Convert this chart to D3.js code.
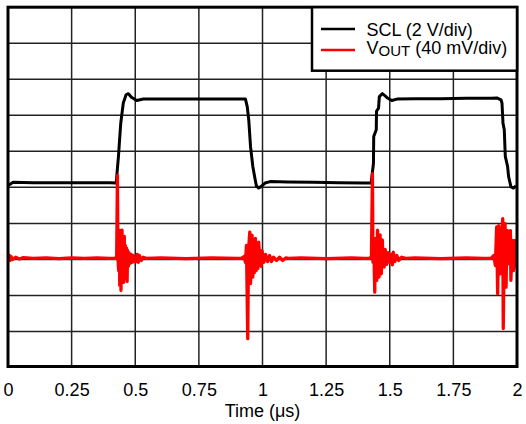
<!DOCTYPE html>
<html><head><meta charset="utf-8">
<script src="https://cdn.jsdelivr.net/npm/d3@7"></script>
<style>body{margin:0;background:#fff}svg{display:block}</style>
</head><body>
<svg id="chart" width="526" height="424"></svg>
<script>
// ---- data ----
const xTicks = [0, 0.25, 0.5, 0.75, 1, 1.25, 1.5, 1.75, 2];
const xTickLabels = ["0", "0.25", "0.5", "0.75", "1", "1.25", "1.5", "1.75", "2"];
const yDivisions = [0, 1, 2, 3, 4, 5, 6, 7, 8, 9, 10];
const xTitle = "Time (\u03BCs)";
const seriesNames = ["SCL (2 V/div)", "V", "OUT", " (40 mV/div)"];

// SCL trace (time in µs, value in divisions)
const sclTime = [0, 0.02, 0.1, 0.2, 0.3, 0.4, 0.425, 0.434, 0.443, 0.453, 0.464, 0.473, 0.485, 0.506, 0.532, 0.6, 0.7, 0.8, 0.9, 0.933,
  0.940, 0.946, 0.953, 0.962, 0.970, 0.976, 0.985, 0.994, 1.010, 1.030, 1.1, 1.2, 1.3, 1.4, 1.427,
  1.436, 1.437, 1.447, 1.448, 1.456, 1.459, 1.471, 1.482, 1.491, 1.508, 1.528, 1.6, 1.7, 1.8, 1.9, 1.921,
  1.937, 1.941, 1.945, 1.950, 1.954, 1.963, 1.967, 1.976, 1.986, 1.996];
const sclValue = [5.05, 5.14, 5.13, 5.13, 5.13, 5.13, 5.12, 5.86, 6.78, 7.34, 7.57, 7.60, 7.50, 7.41, 7.45, 7.45, 7.45, 7.45, 7.45, 7.45,
  7.24, 6.87, 6.13, 5.58, 5.26, 5.04, 4.98, 5.02, 5.12, 5.16, 5.15, 5.14, 5.13, 5.12, 5.12,
  5.67, 6.41, 6.60, 7.11, 7.20, 7.52, 7.60, 7.54, 7.48, 7.41, 7.45, 7.46, 7.46, 7.47, 7.47, 7.48,
  7.43, 7.34, 6.78, 6.60, 5.86, 5.58, 5.30, 5.02, 4.98, 5.04];

// VOUT trace (time in µs, value in divisions)
const voutTime = [0, 0.004, 0.008, 0.012, 0.018, 0.03, 0.045, 0.06, 0.1, 0.15, 0.2, 0.25, 0.3, 0.35, 0.4,
  0.421, 0.427, 0.430, 0.432, 0.435, 0.437, 0.439, 0.441, 0.444, 0.446, 0.448, 0.450, 0.452, 0.454, 0.457, 0.459,
  0.461, 0.464, 0.466, 0.468, 0.470, 0.473, 0.475, 0.480, 0.484, 0.488, 0.492, 0.496, 0.500, 0.504, 0.508, 0.512,
  0.516, 0.524, 0.531, 0.543, 0.6, 0.7, 0.8, 0.9,
  0.917, 0.927, 0.933, 0.937, 0.942, 0.945, 0.950, 0.953, 0.956, 0.959, 0.962, 0.966, 0.969, 0.972, 0.975, 0.979,
  0.982, 0.985, 0.990, 0.995, 0.998, 1.005, 1.012, 1.020, 1.028, 1.035, 1.043, 1.055, 1.067, 1.079, 1.091, 1.102,
  1.15, 1.25, 1.35, 1.40,
  1.421, 1.428, 1.432, 1.434, 1.437, 1.441, 1.444, 1.449, 1.452, 1.455, 1.458, 1.462, 1.465, 1.467, 1.471, 1.474,
  1.478, 1.482, 1.488, 1.494, 1.500, 1.506, 1.510, 1.514, 1.520, 1.528, 1.535, 1.547, 1.563, 1.6, 1.7, 1.8, 1.87,
  1.898, 1.909, 1.915, 1.920, 1.924, 1.928, 1.933, 1.938, 1.944, 1.946, 1.950, 1.953, 1.957, 1.960, 1.963, 1.965,
  1.970, 1.974, 1.976, 1.980, 1.983, 1.986, 1.989, 1.992, 1.995, 1.998];
const voutValue = [3.05, 3.12, 2.97, 3.08, 3.00, 3.06, 3.01, 3.05, 3.03, 3.04, 3.02, 3.04, 3.03, 3.04, 3.03,
  3.03, 3.08, 5.33, 3.03, 2.69, 3.81, 2.28, 3.53, 2.14, 3.75, 3.81, 2.42, 3.58, 2.36, 3.64, 2.47,
  3.39, 2.56, 3.31, 2.39, 3.25, 2.81, 3.19, 2.89, 3.14, 2.92, 3.11, 2.94, 3.06, 2.94, 3.14, 2.92,
  3.11, 2.97, 3.06, 3.03, 3.04, 3.02, 3.04, 3.03,
  3.03, 3.08, 2.92, 3.39, 0.80, 3.25, 3.76, 2.33, 3.53, 3.67, 2.51, 3.39, 2.64, 3.58, 2.69, 3.31,
  2.75, 3.48, 2.92, 2.81, 3.25, 2.92, 3.14, 2.94, 3.11, 2.94, 3.06, 2.97, 3.06, 2.97, 3.04, 3.03,
  3.04, 3.02, 3.04, 3.03,
  3.03, 3.08, 5.38, 2.92, 3.53, 2.09, 3.58, 2.42, 3.81, 2.64, 2.51, 3.68, 2.75, 2.60, 3.54, 2.81,
  2.79, 3.28, 2.86, 3.19, 2.92, 3.14, 2.85, 3.20, 2.94, 3.11, 2.97, 3.06, 3.03, 3.04, 3.02, 3.04, 3.03,
  3.03, 3.11, 2.83, 3.90, 2.05, 3.94, 2.60, 3.53, 4.13, 1.08, 3.39, 3.99, 2.23, 3.53, 3.80, 2.88,
  3.53, 3.80, 2.42, 3.25, 3.53, 2.69, 2.79, 3.53, 2.83, 2.97];

// ---- drawing ----
const svg = d3.select("#chart");
const pLeft = 8, pRight = 517, pTop = 7.2, pBottom = 367.5;
const x = d3.scaleLinear().domain([0, 2]).range([pLeft, pRight]);
const y = d3.scaleLinear().domain([0, 10]).range([pBottom, pTop]);
const font = "'Liberation Sans', Arial, Helvetica, sans-serif";

svg.append("rect").attr("width", 526).attr("height", 424).attr("fill", "#fff");

// grid
const g = svg.append("g");
g.selectAll("line.v").data(xTicks.slice(1, -1)).join("line").attr("class", "v")
  .attr("x1", d => x(d)).attr("x2", d => x(d)).attr("y1", pTop).attr("y2", pBottom)
  .attr("stroke", "#222").attr("stroke-width", 1.5);
g.selectAll("line.h").data(yDivisions.slice(1, -1)).join("line").attr("class", "h")
  .attr("x1", pLeft).attr("x2", pRight).attr("y1", d => y(d)).attr("y2", d => y(d))
  .attr("stroke", "#222").attr("stroke-width", 1.5);

svg.append("clipPath").attr("id", "clip").append("rect")
  .attr("x", pLeft).attr("y", pTop).attr("width", pRight - pLeft).attr("height", pBottom - pTop);

const line = d3.line().x(d => x(d[0])).y(d => y(d[1]));
const scl = sclTime.map((t, i) => [t, sclValue[i]]);
const vout = voutTime.map((t, i) => [t, voutValue[i]]);

svg.append("path").attr("d", line(scl)).attr("clip-path", "url(#clip)")
  .attr("fill", "none").attr("stroke", "#000").attr("stroke-width", 3).attr("stroke-linejoin", "round");
svg.append("path").attr("d", line(vout)).attr("clip-path", "url(#clip)")
  .attr("fill", "none").attr("stroke", "#ff0000").attr("stroke-width", 3.3).attr("stroke-linejoin", "round");

// border
svg.append("rect").attr("x", pLeft).attr("y", pTop).attr("width", pRight - pLeft).attr("height", pBottom - pTop - 1)
  .attr("fill", "none").attr("stroke", "#000").attr("stroke-width", 3);

// x axis labels
const ax = svg.append("g").attr("transform", `translate(0,${pBottom})`)
  .call(d3.axisBottom(x).tickValues(xTicks).tickFormat((d, i) => xTickLabels[i]).tickSize(0).tickPadding(15.4));
ax.select(".domain").remove();
ax.selectAll("text").attr("font-family", font).attr("font-size", 18).attr("fill", "#000");

svg.append("text").attr("x", (pLeft + pRight) / 2).attr("y", 416.5).attr("text-anchor", "middle")
  .attr("font-family", font).attr("font-size", 18).attr("fill", "#000").text(xTitle);

// legend
const lg = svg.append("g");
lg.append("rect").attr("x", 312).attr("y", pTop).attr("width", pRight - 312).attr("height", 63.5)
  .attr("fill", "#fff").attr("stroke", "#000").attr("stroke-width", 2.5);
lg.append("line").attr("x1", 321).attr("x2", 355).attr("y1", 29).attr("y2", 29)
  .attr("stroke", "#000").attr("stroke-width", 2.7);
lg.append("line").attr("x1", 321).attr("x2", 355).attr("y1", 50).attr("y2", 50)
  .attr("stroke", "#ff0000").attr("stroke-width", 2.7);
lg.append("text").attr("x", 366.5).attr("y", 35.7).attr("font-family", font).attr("font-size", 18)
  .attr("fill", "#000").text(seriesNames[0]);
const t2 = lg.append("text").attr("x", 366.5).attr("y", 54.2).attr("font-family", font).attr("font-size", 18).attr("fill", "#000");
t2.append("tspan").text(seriesNames[1]);
t2.append("tspan").attr("font-size", 15).attr("dy", 1.5).text(seriesNames[2]);
t2.append("tspan").attr("dy", -1.5).text(seriesNames[3]);
</script>
</body></html>
